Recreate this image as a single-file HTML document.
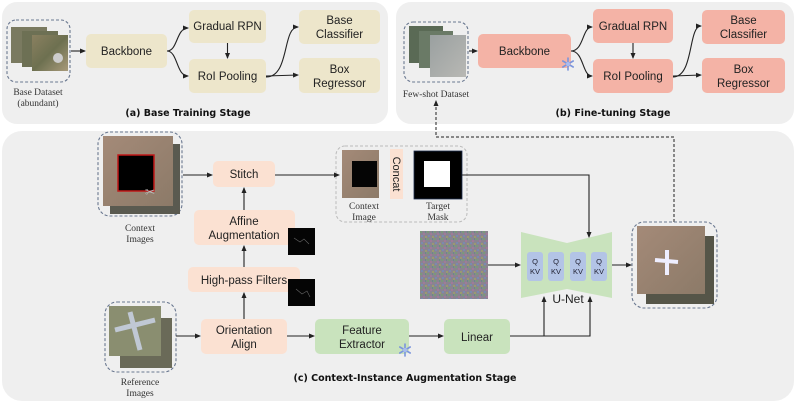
<!DOCTYPE html>
<html><head><meta charset="utf-8"><style>
body{margin:0;background:#fff}
svg{display:block}
.t{font-family:"Liberation Sans",sans-serif;font-size:11.5px;fill:#222;text-anchor:middle}
.c{font-family:"Liberation Serif",serif;font-size:9.5px;fill:#333;text-anchor:middle}
.h{font-family:"DejaVu Sans",sans-serif;font-size:9.5px;font-weight:bold;fill:#111;text-anchor:middle}
.q{font-family:"Liberation Sans",sans-serif;font-size:7.5px;fill:#223;text-anchor:middle}
.a{stroke:#222;stroke-width:1.1;fill:none;marker-end:url(#ar)}
.d{stroke:#6a7890;stroke-width:1.1;stroke-dasharray:3,2;fill:none}
.sf{stroke:#7b95dc;stroke-width:1.6;stroke-linecap:round}
</style></head><body>
<svg width="797" height="404" viewBox="0 0 797 404" xmlns="http://www.w3.org/2000/svg">
<defs>
<marker id="ar" markerWidth="6" markerHeight="6" refX="5" refY="3" orient="auto" markerUnits="userSpaceOnUse"><path d="M0,0.5 L6,3 L0,5.5z" fill="#222"/></marker>
<linearGradient id="sat" x1="0" y1="0" x2="1" y2="1"><stop offset="0" stop-color="#8a8060"/><stop offset=".5" stop-color="#6d7050"/><stop offset="1" stop-color="#a89a7a"/></linearGradient>
<linearGradient id="sand" x1="0" y1="0" x2="1" y2="1"><stop offset="0" stop-color="#a48a78"/><stop offset="1" stop-color="#8c7a68"/></linearGradient>
<linearGradient id="grey" x1="0" y1="0" x2="1" y2="1"><stop offset="0" stop-color="#9aa0a0"/><stop offset="1" stop-color="#b8b8b4"/></linearGradient>
<pattern id="noise" width="7" height="7" patternUnits="userSpaceOnUse"><rect width="7" height="7" fill="#8a8490"/><rect x="0" y="0" width="2" height="2" fill="#7a9a7a"/><rect x="3" y="2" width="2" height="2" fill="#a07a9a"/><rect x="1" y="4" width="2" height="2" fill="#7a8ab0"/><rect x="5" y="5" width="2" height="2" fill="#9a9a70"/><rect x="5" y="0" width="1" height="2" fill="#6a8a8a"/></pattern>
<g id="snow"><path class="sf" d="M0,-6 L0,6 M-5.2,-3 L5.2,3 M-5.2,3 L5.2,-3"/><circle r="2" fill="#a9bdf0"/></g>
</defs>

<rect x="2" y="2" width="386" height="122" rx="15" fill="#efefef"/>
<rect x="396" y="2" width="398" height="122" rx="15" fill="#efefef"/>
<rect x="2" y="131" width="792" height="270" rx="20" fill="#efefef"/>

<!-- (a) -->
<rect x="7" y="20" width="63" height="62" rx="9" class="d"/>
<rect x="11" y="27" width="36" height="36" fill="#7a7a60"/>
<rect x="22" y="31" width="36" height="36" fill="#6d7054"/>
<rect x="32" y="35" width="36" height="36" fill="url(#sat)"/>
<circle cx="58" cy="58" r="5" fill="#ccc"/>
<text class="c" x="38" y="95">Base Dataset</text>
<text class="c" x="38" y="106">(abundant)</text>
<rect x="86" y="34" width="81" height="34" rx="5" fill="#ede6cb"/><text class="t" x="126.5" y="55">Backbone</text>
<rect x="189" y="10" width="77" height="33" rx="5" fill="#ede6cb"/><text class="t" x="227.5" y="30">Gradual RPN</text>
<rect x="189" y="59" width="77" height="34" rx="5" fill="#ede6cb"/><text class="t" x="227.5" y="80">RoI Pooling</text>
<rect x="299" y="10" width="81" height="34" rx="5" fill="#ede6cb"/><text class="t" x="339.5" y="24">Base</text><text class="t" x="339.5" y="38">Classifier</text>
<rect x="299" y="58" width="81" height="35" rx="5" fill="#ede6cb"/><text class="t" x="339.5" y="73">Box</text><text class="t" x="339.5" y="87">Regressor</text>
<path class="a" d="M71,51 L85,51"/>
<path class="a" d="M167,51 C178,51 176,28 188,28"/>
<path class="a" d="M167,51 C178,51 176,76 188,76"/>
<path class="a" d="M227.5,43 L227.5,58"/>
<path class="a" d="M266,77 C290,77 282,27 298,27"/>
<path class="a" d="M266,76 L298,75"/>
<text class="h" x="188" y="116">(a) Base Training Stage</text>

<!-- (b) -->
<rect x="404" y="22" width="64" height="60" rx="9" class="d"/>
<rect x="409" y="26" width="34" height="37" fill="#5a6a55"/>
<rect x="419" y="31" width="34" height="37" fill="#6a7a66"/>
<rect x="430" y="35" width="36" height="42" fill="url(#grey)"/>
<text class="c" x="436" y="97">Few-shot  Dataset</text>
<rect x="478" y="34" width="93" height="34" rx="5" fill="#f4b3a6"/><text class="t" x="524.5" y="55">Backbone</text>
<use href="#snow" x="568" y="64"/>
<rect x="593" y="9" width="80" height="34" rx="5" fill="#f4b3a6"/><text class="t" x="633" y="30">Gradual RPN</text>
<rect x="593" y="59" width="80" height="34" rx="5" fill="#f4b3a6"/><text class="t" x="633" y="80">RoI Pooling</text>
<rect x="702" y="10" width="83" height="34" rx="5" fill="#f4b3a6"/><text class="t" x="743.5" y="24">Base</text><text class="t" x="743.5" y="38">Classifier</text>
<rect x="702" y="58" width="83" height="35" rx="5" fill="#f4b3a6"/><text class="t" x="743.5" y="73">Box</text><text class="t" x="743.5" y="87">Regressor</text>
<path class="a" d="M469,51 L477,51"/>
<path class="a" d="M571,51 C584,51 582,27 592,27"/>
<path class="a" d="M571,51 C584,51 582,76 592,76"/>
<path class="a" d="M633,43 L633,58"/>
<path class="a" d="M673,77 C694,77 688,26 701,26"/>
<path class="a" d="M673,76 L701,75"/>
<text class="h" x="613" y="116">(b) Fine-tuning Stage</text>

<path d="M674,222 L674,137 L436,137 L436,101" stroke="#222" stroke-width="1" stroke-dasharray="3,2" fill="none" marker-end="url(#ar)"/>

<!-- (c) -->
<rect x="98" y="132" width="84" height="84" rx="12" class="d"/>
<rect x="110" y="144" width="70" height="70" fill="#5a5a50"/>
<rect x="103" y="136" width="70" height="70" fill="url(#sand)"/>
<rect x="118" y="155" width="36" height="36" fill="#000" stroke="#c01818" stroke-width="1.5"/>
<text x="150" y="196" font-size="12" fill="#bbb" font-family="DejaVu Sans" text-anchor="middle">✂</text>
<text class="c" x="140" y="231">Context</text><text class="c" x="140" y="242">Images</text>

<rect x="213" y="161" width="62" height="26" rx="5" fill="#fbe1d2"/><text class="t" x="244" y="178">Stitch</text>
<rect x="194" y="210" width="101" height="35" rx="5" fill="#fbe1d2"/><text class="t" x="244" y="225">Affine</text><text class="t" x="244" y="239">Augmentation</text>
<rect x="188" y="267" width="112" height="25" rx="5" fill="#fbe1d2"/><text class="t" x="244" y="284">High-pass Filters</text>
<rect x="201" y="319" width="86" height="35" rx="5" fill="#fbe1d2"/><text class="t" x="244" y="334">Orientation</text><text class="t" x="244" y="348">Align</text>
<rect x="288" y="228" width="27" height="27" fill="#050505"/>
<rect x="288" y="279" width="27" height="27" fill="#050505"/>
<path d="M294,238 l6,4 l4,-3 l5,5 M296,289 l6,5 l5,-3 l3,6" stroke="#666" stroke-width="0.6" fill="none"/>

<rect x="315" y="319" width="94" height="35" rx="5" fill="#c9e3bd"/><text class="t" x="362" y="334">Feature</text><text class="t" x="362" y="348">Extractor</text>
<use href="#snow" x="405" y="350"/>
<rect x="444" y="319" width="66" height="35" rx="5" fill="#c9e3bd"/><text class="t" x="477" y="341">Linear</text>

<rect x="105" y="302" width="71" height="70" rx="12" class="d"/>
<rect x="120" y="318" width="52" height="50" fill="#6a6a58"/>
<rect x="109" y="306" width="52" height="50" fill="#8a8e70"/>
<path d="M115,330 L155,320 M130,312 L140,350" stroke="#c0c8d4" stroke-width="5"/>
<text class="c" x="140" y="385">Reference</text><text class="c" x="140" y="396">Images</text>

<rect x="336" y="146" width="131" height="76" rx="9" fill="none" stroke="#bbb" stroke-width="1" stroke-dasharray="3,2"/>
<rect x="342" y="150" width="37" height="48" fill="url(#sand)"/>
<rect x="352" y="161" width="25" height="26" fill="#050505"/>
<rect x="390" y="149" width="13" height="50" fill="#fbe1d2"/>
<text class="t" x="0" y="0" transform="translate(393,174) rotate(90)" style="font-size:11px">Concat</text>
<rect x="414" y="151" width="48" height="48" fill="#000" stroke="#203050" stroke-width="0.8"/>
<rect x="424" y="161" width="26" height="26" fill="#fff"/>
<text class="c" x="364" y="209">Context</text><text class="c" x="364" y="220">Image</text>
<text class="c" x="438" y="209">Target</text><text class="c" x="438" y="220">Mask</text>

<rect x="420" y="231" width="68" height="68" fill="url(#noise)"/>

<path d="M521,232 L567,243 L567,289 L521,298z" fill="#c9e3bd"/>
<path d="M567,243 L612,232 L612,298 L567,289z" fill="#c9e3bd"/>
<rect x="527" y="252" width="16" height="29" rx="3" fill="#b3c4e6"/>
<rect x="548" y="252" width="16" height="29" rx="3" fill="#b3c4e6"/>
<rect x="570" y="252" width="16" height="29" rx="3" fill="#b3c4e6"/>
<rect x="591" y="252" width="16" height="29" rx="3" fill="#b3c4e6"/>
<text class="q" x="535" y="264">Q</text><text class="q" x="535" y="274">KV</text>
<text class="q" x="556" y="264">Q</text><text class="q" x="556" y="274">KV</text>
<text class="q" x="578" y="264">Q</text><text class="q" x="578" y="274">KV</text>
<text class="q" x="599" y="264">Q</text><text class="q" x="599" y="274">KV</text>
<text class="t" x="568" y="303" style="font-size:12px">U-Net</text>

<rect x="632" y="222" width="85" height="86" rx="12" class="d"/>
<rect x="646" y="236" width="68" height="68" fill="#555548"/>
<rect x="637" y="226" width="68" height="68" fill="url(#sand)"/>
<path d="M655,260 L678,262 M667,250 L667,275" stroke="#eef" stroke-width="4"/>

<path class="a" d="M183,175 L212,175"/>
<path class="a" d="M275,175 L339,175"/>
<path class="a" d="M462,175 L589,175 L589,237"/>
<path class="a" d="M488,265 L520,265"/>
<path class="a" d="M612,265 L631,265"/>
<path class="a" d="M176,336 L200,336"/>
<path class="a" d="M287,336 L314,336"/>
<path class="a" d="M409,336 L443,336"/>
<path class="a" d="M510,336 L590,336 L590,297"/>
<path class="a" d="M544,336 L544,297"/>
<path class="a" d="M244,319 L244,293"/>
<path class="a" d="M244,267 L244,246"/>
<path class="a" d="M244,210 L244,188"/>

<text class="h" x="405" y="381">(c) Context-Instance Augmentation Stage</text>
</svg>
</body></html>
